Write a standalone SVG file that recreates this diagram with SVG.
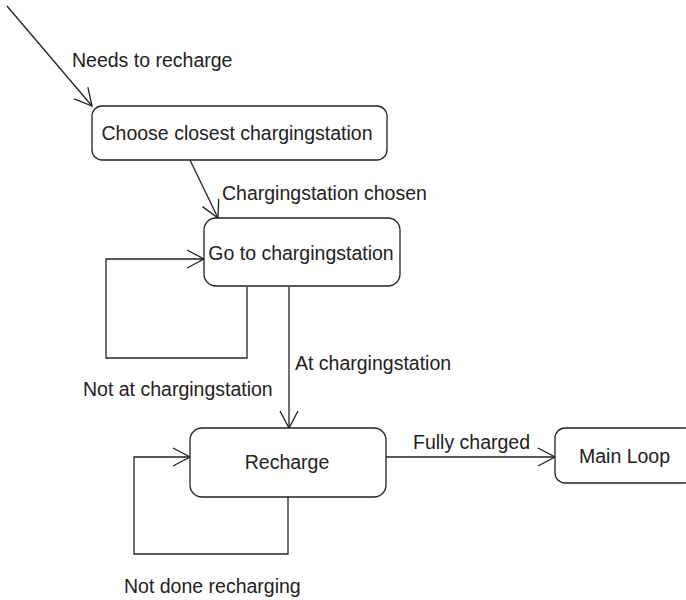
<svg xmlns="http://www.w3.org/2000/svg" width="686" height="600" viewBox="0 0 686 600">
<style>
  .box { fill: #ffffff; stroke: #222; stroke-width: 1.3; }
  .lbl { font-family: "Liberation Sans", Arial, sans-serif; font-size: 19.5px; fill: #222; }
  .c { text-anchor: middle; }
  .edge { fill: none; stroke: #222; stroke-width: 1.3; marker-end: url(#arr); }
</style>
<defs>
  <marker id="arr" markerUnits="userSpaceOnUse" viewBox="0 0 20 20" refX="18" refY="10" markerWidth="20" markerHeight="20" orient="auto">
    <path d="M1,1 L18,10 L1,19" fill="none" stroke="#222" stroke-width="1.3"/>
  </marker>
</defs>
<rect width="686" height="600" fill="#ffffff"/>
<g id="connectors">
  <path class="edge" d="M7,6 L92,106"/>
  <path class="edge" d="M190,160 L218,218"/>
  <path class="edge" d="M247,287 V358 H106 V259 H204"/>
  <path class="edge" d="M289,287 V428"/>
  <path class="edge" d="M288,497 V554 H134 V457 H190"/>
  <path class="edge" d="M386,457 H555"/>
  <text class="lbl" x="72" y="67">Needs to recharge</text>
  <text class="lbl" x="222" y="200">Chargingstation chosen</text>
  <text class="lbl" x="83" y="396">Not at chargingstation</text>
  <text class="lbl" x="295" y="370">At chargingstation</text>
  <text class="lbl" x="124" y="593">Not done recharging</text>
  <text class="lbl" x="413" y="449">Fully charged</text>
</g>
<g id="choose">
  <rect class="box" x="92" y="106" width="295" height="54" rx="10"/>
  <text class="lbl c" x="237" y="140">Choose closest chargingstation</text>
</g>
<g id="goto">
  <rect class="box" x="204" y="218" width="196" height="68" rx="12"/>
  <text class="lbl c" x="301" y="260">Go to chargingstation</text>
</g>
<g id="recharge">
  <rect class="box" x="190" y="428" width="196" height="69" rx="12"/>
  <text class="lbl c" x="287" y="469">Recharge</text>
</g>
<g id="mainloop">
  <rect class="box" x="555" y="428" width="140" height="55" rx="10"/>
  <text class="lbl" x="579" y="463">Main Loop</text>
</g>
</svg>
